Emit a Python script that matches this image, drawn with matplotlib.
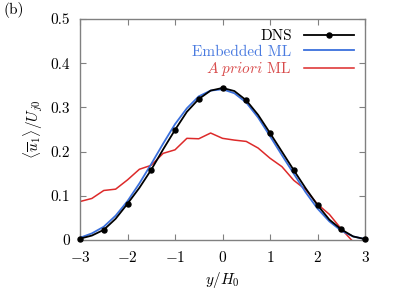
import numpy as np
import matplotlib.pyplot as plt

plt.rcParams['font.family'] = 'serif'
plt.rcParams['font.serif'] = ['cmr10']
plt.rcParams['mathtext.fontset'] = 'cm'
plt.rcParams['axes.formatter.use_mathtext'] = True
plt.rcParams['font.size'] = 11

## perfis de velocidade media
y_dns = [-3.0, -2.75, -2.5, -2.25, -2.0, -1.75, -1.5, -1.25, -1.0, -0.75, -0.5, -0.25,
         0.0, 0.25, 0.5, 0.75, 1.0, 1.25, 1.5, 1.75, 2.0, 2.25, 2.5, 2.75, 3.0]
u_dns = [0.003, 0.010, 0.023, 0.048, 0.082, 0.118, 0.159, 0.205, 0.249, 0.290, 0.319, 0.338,
         0.344, 0.337, 0.316, 0.283, 0.242, 0.200, 0.158, 0.117, 0.079, 0.046, 0.024, 0.008, 0.002]

y_emb = y_dns
u_emb = [0.005, 0.015, 0.030, 0.055, 0.088, 0.128, 0.172, 0.218, 0.262, 0.298, 0.325, 0.338,
         0.341, 0.332, 0.311, 0.277, 0.235, 0.192, 0.150, 0.108, 0.071, 0.042, 0.021, 0.008, 0.002]

y_apr = [-3.0, -2.75, -2.5, -2.25, -2.0, -1.75, -1.5, -1.25, -1.0, -0.75, -0.5, -0.25,
         0.0, 0.25, 0.5, 0.75, 1.0, 1.25, 1.5, 1.75, 2.0, 2.25, 2.5, 2.75]
u_apr = [0.087, 0.094, 0.112, 0.115, 0.136, 0.160, 0.169, 0.196, 0.204, 0.230, 0.229, 0.242,
         0.230, 0.226, 0.223, 0.208, 0.185, 0.166, 0.135, 0.114, 0.081, 0.058, 0.025, -0.004]

fig = plt.figure(figsize=(3.99, 3.01), dpi=100)
ax = fig.add_axes([0.2005, 0.2027, 0.7143, 0.7342])

ax.plot(y_dns, u_dns, '-', color='black', lw=1.3, marker='o', ms=3.6, markevery=2,
        label='DNS', clip_on=False, zorder=4)
ax.plot(y_emb, u_emb, '-', color='#3a6fdc', lw=1.3, label='Embedded ML', zorder=3)
ax.plot(y_apr, u_apr, '-', color='#dd2a2a', lw=1.1, label=r'$\mathit{A\ priori}$ ML', zorder=2)

ax.set_xlim(-3, 3)
ax.set_ylim(0, 0.5)
ax.set_xticks([-3, -2, -1, 0, 1, 2, 3])
ax.set_yticks([0, 0.1, 0.2, 0.3, 0.4, 0.5])
ax.set_yticklabels(['0', '0.1', '0.2', '0.3', '0.4', '0.5'])
ax.tick_params(direction='in', top=True, right=True, length=4, color='#808080', pad=7)
for s in ax.spines.values():
    s.set_color('#808080')
    s.set_linewidth(1.0)

ax.set_xlabel(r'$y/H_0$', labelpad=4)
ax.set_ylabel(r'$\langle \overline{u}_1 \rangle / U_{j0}$', labelpad=4)

leg = ax.legend(loc='upper right', frameon=False, markerfirst=False, handlelength=3.3,
                borderaxespad=0.3, labelspacing=0.1, handletextpad=0.8)
for t, c in zip(leg.get_texts(), ['black', '#4a7be0', '#d84a4a']):
    t.set_color(c)

fig.text(0.01, 0.955, '(b)', fontsize=11)

plt.savefig('out.png', dpi=100)
